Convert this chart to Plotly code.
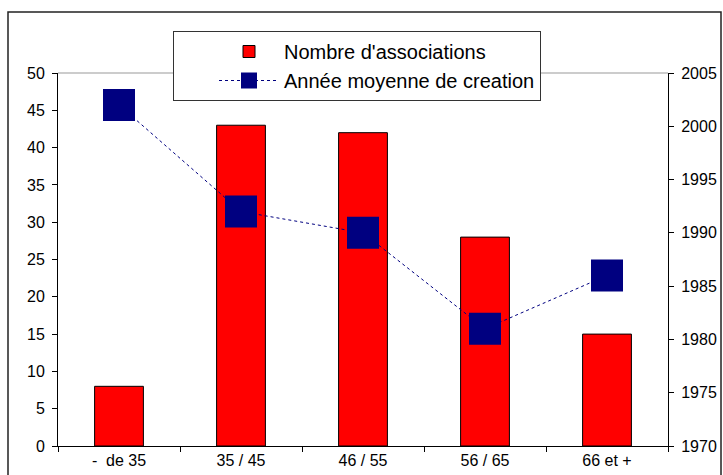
import plotly.graph_objects as go

categories = ["-  de 35", "35 / 45", "46 / 55", "56 / 65", "66 et +"]
nombre_associations = [8, 43, 42, 28, 15]
annee_moyenne = [2002, 1992, 1990, 1981, 1986]

left_ticks = list(range(0, 51, 5))
right_ticks = list(range(1970, 2006, 5))
category_bounds = [i - 0.5 for i in range(len(categories) + 1)]

FONT = "Liberation Sans, Arial, sans-serif"

fig = go.Figure()
fig.add_trace(go.Bar(
    x=categories, y=nombre_associations, name="Nombre d'associations",
    marker=dict(color="#FF0000", line=dict(color="#000000", width=1)),
    width=0.4,
))
fig.add_trace(go.Scatter(
    x=categories, y=annee_moyenne, name="Année moyenne de creation",
    yaxis="y2", mode="lines+markers",
    line=dict(color="#000080", width=1, dash="dot"),
    marker=dict(symbol="square", size=32, color="#000080"),
))

inner_tick = dict(ticks="inside", ticklen=4, tickcolor="black",
                  showticklabels=False, showgrid=False, zeroline=False, showline=False)

fig.update_layout(
    width=723, height=475,
    margin=dict(l=58, r=55, t=73, b=29, autoexpand=False),
    paper_bgcolor="white", plot_bgcolor="white",
    font=dict(family=FONT, size=16, color="black"),
    showlegend=True,
    legend=dict(
        x=(173 - 58) / 610, y=(446 - 31) / 373, xanchor="left", yanchor="top",
        bgcolor="white", bordercolor="#333333", borderwidth=1,
        font=dict(family=FONT, size=20, color="black"),
        itemwidth=60, indentation=40, traceorder="normal",
    ),
    bargap=0.6,
    xaxis=dict(
        type="category", range=[-0.5, 4.5],
        showline=True, linecolor="black", linewidth=1,
        ticks="outside", ticklen=5, tickcolor="black", tickson="boundaries",
        showgrid=False, zeroline=False,
        tickfont=dict(family=FONT, size=16, color="black"),
    ),
    xaxis2=dict(overlaying="x", anchor="y", side="bottom", range=[-0.5, 4.5],
                tickvals=category_bounds, **inner_tick),
    yaxis=dict(
        range=[0, 50], tickvals=left_ticks,
        showline=True, linecolor="black", linewidth=1,
        ticks="outside", ticklen=5, tickcolor="black",
        showgrid=False, zeroline=False,
        tickfont=dict(family=FONT, size=16, color="black"),
        ticklabelstandoff=4,
    ),
    yaxis2=dict(
        range=[1970, 2005], tickvals=right_ticks, overlaying="y", side="right",
        showline=True, linecolor="black", linewidth=1,
        ticks="outside", ticklen=5, tickcolor="black",
        showgrid=False, zeroline=False,
        tickfont=dict(family=FONT, size=16, color="black"),
        ticklabelstandoff=4,
    ),
    yaxis3=dict(overlaying="y", anchor="x", side="left", range=[0, 50],
                tickvals=left_ticks, **inner_tick),
    yaxis4=dict(overlaying="y", anchor="x", side="right", range=[1970, 2005],
                tickvals=right_ticks, **inner_tick),
    shapes=[
        dict(type="line", xref="paper", yref="paper", x0=0, x1=1, y0=1, y1=1,
             line=dict(color="#999999", width=1), layer="below"),
        dict(type="rect", xref="paper", yref="paper",
             x0=(8 - 58) / 610, x1=(721 - 58) / 610,
             y0=-0.3, y1=(446 - 12) / 373,
             line=dict(color="#222222", width=1.5)),
    ],
)

fig.write_html(
    "out.html",
    config={"displayModeBar": False},
    post_script="document.body.style.margin='0';document.body.style.overflow='hidden';",
)
